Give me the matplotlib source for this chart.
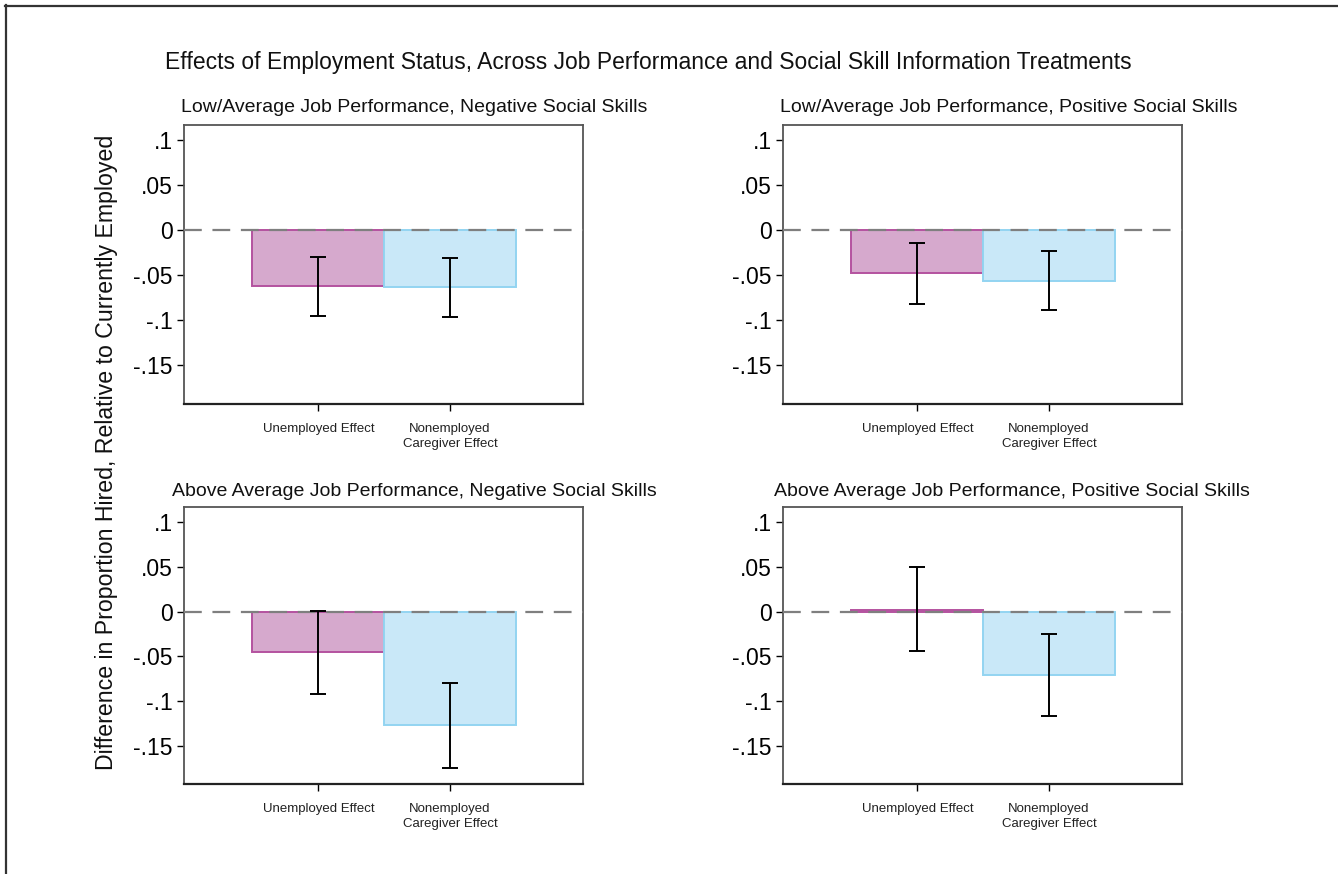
"""
Effects of employment status on proportion hired, split by job performance
and social skill information treatments (2x2 grid of bar + CI panels).
"""
import matplotlib
matplotlib.use("Agg")
import matplotlib.pyplot as plt
from matplotlib.lines import Line2D

plt.rcParams["font.family"] = ["Liberation Sans", "DejaVu Sans"]

GROUPS = ["Unemployed Effect", "Nonemployed\nCaregiver Effect"]
PANEL_TITLES = [
    "Low/Average Job Performance, Negative Social Skills",
    "Low/Average Job Performance, Positive Social Skills",
    "Above Average Job Performance, Negative Social Skills",
    "Above Average Job Performance, Positive Social Skills",
]

# point estimates and 95% CI bounds, one entry per panel
unemployed = [-0.062, -0.048, -0.0455, 0.0015]
unemployed_lo = [-0.0954, -0.0817, -0.0918, -0.0444]
unemployed_hi = [-0.0294, -0.0145, 0.0008, 0.0493]
caregiver = [-0.063, -0.056, -0.1275, -0.071]
caregiver_lo = [-0.0965, -0.0887, -0.175, -0.1174]
caregiver_hi = [-0.0305, -0.023, -0.0803, -0.0248]

YTICKS = [0.1, 0.05, 0.0, -0.05, -0.1, -0.15]
YTICKLABELS = [".1", ".05", "0", "-.05", "-.1", "-.15"]

FILL = ["#d6a9cd", "#c9e8f8"]
EDGE = ["#b4529f", "#93d4f1"]

W, H = 1338, 874
fig = plt.figure(figsize=(W / 100, H / 100), dpi=100)


def fx(px):
    return px / W


def fy(py):
    return 1 - py / H


# axes boxes in pixel coords: left, top, right, bottom
boxes = [
    (184, 125, 583, 404),
    (783, 125, 1182, 404),
    (184, 507, 583, 784),
    (783, 507, 1182, 784),
]
title_pos = [(414, 108), (1009, 108), (414, 492), (1012, 492)]

for i, (l, t, r, b) in enumerate(boxes):
    ax = fig.add_axes([fx(l), fy(b), fx(r - l), (b - t) / H])
    vals = [unemployed[i], caregiver[i]]
    lo = [unemployed_lo[i], caregiver_lo[i]]
    hi = [unemployed_hi[i], caregiver_hi[i]]
    xs = [1, 2]
    ax.bar(xs, vals, width=1.0, color=FILL, edgecolor=EDGE, linewidth=1.4,
           zorder=2)
    ax.axhline(0, color="#7f7f7f", lw=1.6, ls=(0, (8, 4.8)), zorder=3)
    for x, v, a, c in zip(xs, vals, lo, hi):
        ax.errorbar(x, v, yerr=[[v - a], [c - v]], fmt="none", ecolor="black",
                    elinewidth=1.4, capsize=5.5, capthick=1.4, zorder=4)
    ax.set_xlim(-0.02, 3.01)
    ax.set_ylim(-0.193, 0.117)
    ax.set_yticks(YTICKS)
    ax.set_yticklabels(YTICKLABELS, fontsize=16.5)
    ax.set_xticks(xs)
    ax.set_xticklabels(GROUPS, fontsize=9.5, color="#222222", linespacing=1.3)
    ax.tick_params(axis="y", direction="out", length=5, width=1, pad=3,
                   right=False)
    ax.tick_params(axis="x", direction="out", length=5, width=1, pad=9,
                   top=False)
    for s in ax.spines.values():
        s.set_linewidth(1.3)
        s.set_color("#555555")
    ax.spines["bottom"].set_color("#222222")
    ax.spines["bottom"].set_linewidth(1.6)
    tx, ty = title_pos[i]
    fig.text(fx(tx), fy(ty), PANEL_TITLES[i], ha="center", va="center",
             fontsize=14, color="#111111")

fig.text(fx(648), fy(62), "Effects of Employment Status, Across Job Performance "
         "and Social Skill Information Treatments", ha="center", va="center",
         fontsize=16.5, color="#111111")
fig.text(fx(107), fy(452),
         "Difference in Proportion Hired, Relative to Currently Employed",
         rotation=90, ha="center", va="center", fontsize=16.7,
         color="#111111")

# outer frame: only top and left edges survive
fig.add_artist(Line2D([fx(5), 1], [fy(5.5), fy(5.5)], color="#333333",
                      lw=1.6, transform=fig.transFigure))
fig.add_artist(Line2D([fx(5.5), fx(5.5)], [fy(5), 0], color="#333333",
                      lw=1.6, transform=fig.transFigure))

fig.savefig("out.png", dpi=100)
